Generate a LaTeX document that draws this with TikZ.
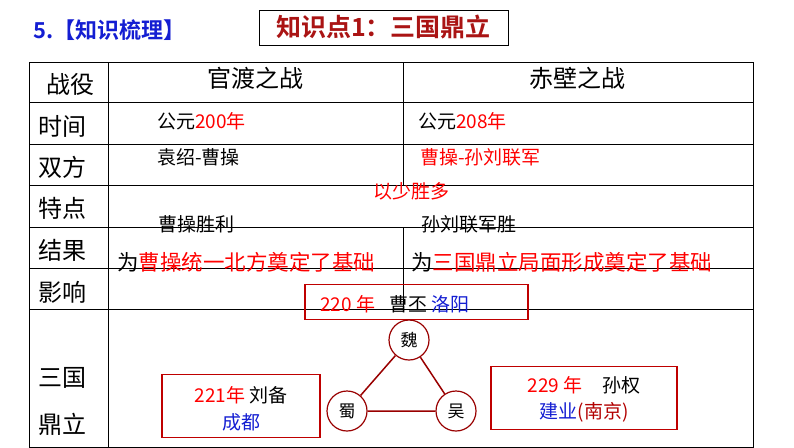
\documentclass[tikz,border=0pt]{standalone}
\usepackage{fontspec}
\newfontfamily\cjk{Noto Sans CJK SC}
\newfontfamily\cjkb{Noto Sans CJK SC Bold}
\begin{document}
\begin{tikzpicture}[x=1pt,y=-1pt,
  lab/.style={font=\cjk\fontsize{24}{24}\selectfont,inner sep=0},
  txt/.style={font=\cjk\fontsize{19}{19}\selectfont,inner sep=0,anchor=west},
  wide/.style={font=\cjk\fontsize{21.5}{21.5}\selectfont,inner sep=0,anchor=west},
  rb/.style={draw=red!75!black,line width=1.2pt},
  kc/.style={circle,draw=red!60!black,line width=1.2pt,fill=white,minimum size=40,inner sep=0,font=\cjk\fontsize{17}{17}\selectfont}]
\definecolor{dr}{RGB}{170,20,20}
\definecolor{bl}{RGB}{20,30,210}
\useasboundingbox (0,0) rectangle (794,447);
% title
\node[anchor=west,inner sep=0,text=bl,font=\cjkb\fontsize{22}{22}\selectfont] (t1) at (33,30) {5.【知识梳理】};
\node[draw,line width=0.8pt,minimum width=249,minimum height=35,inner sep=0,text=dr,font=\cjkb\fontsize{25}{25}\selectfont] (t2) at (383.5,27.5) {知识点1：三国鼎立};
% table
\draw[line width=0.8pt] (29,62) rectangle (753,447);
\draw[line width=0.8pt] (108,62) -- (108,447);
\foreach \y in {102,144,185,227,268,309} \draw[line width=0.8pt] (29,\y) -- (753,\y);
\draw[line width=0.8pt] (403,62) -- (403,185);
\draw[line width=0.8pt] (403,227) -- (403,309);
% row labels
\node[lab] (r0) at (70,84) {战役};
\node[lab] (r1) at (62,126) {时间};
\node[lab] (r2) at (62,167) {双方};
\node[lab] (r3) at (62,208) {特点};
\node[lab] (r4) at (62,250) {结果};
\node[lab] (r5) at (62,292) {影响};
\node[lab] (r6) at (62,378) {三国};
\node[lab] (r7) at (62,424) {鼎立};
\node[lab] (h1) at (255,78) {官渡之战};
\node[lab] (h2) at (577,78) {赤壁之战};
% cells
\node[txt] (a1) at (157,121) {公元\textcolor{red}{200年}};
\node[txt] (b1) at (418,121) {公元\textcolor{red}{208年}};
\node[txt] (a2) at (157,157) {袁绍-曹操};
\node[txt,text=red] (b2) at (420,157) {曹操-孙刘联军};
\node[txt,text=red,anchor=center] (c3) at (411,191) {以少胜多};
\node[txt] (a4) at (158,224) {曹操胜利};
\node[txt] (b4) at (421,224) {孙刘联军胜};
\node[wide] (a5) at (117,262) {为\textcolor{red}{曹操统一北方奠定了基础}};
\node[wide] (b5) at (411,262) {为\textcolor{red}{三国鼎立局面形成奠定了基础}};
% bottom
\node[rb,fill=none,minimum width=223,minimum height=35,inner sep=0] (bx) at (416.5,302) {};
\node[txt] (w1) at (320,304) {\textcolor{red}{220 年}\hspace{14pt}曹丕 \textcolor{bl}{洛阳}};
\node[kc] (wei) at (409,340) {魏};
\node[kc] (shu) at (347,411) {蜀};
\node[kc] (wu) at (456,411) {吴};
\draw[red!60!black,line width=1.5pt] (wei) -- (shu) -- (wu) -- (wei);
\node[rb,minimum width=158,minimum height=63,inner sep=0] (bs) at (241,406) {};
\node[txt,anchor=center] (s1) at (241,395) {\textcolor{red}{221年} 刘备};
\node[txt,anchor=center,text=bl] (s2) at (241,422) {成都};
\node[rb,minimum width=186,minimum height=63,inner sep=0] (bw) at (584,398) {};
\node[txt,anchor=center] (u1) at (584,385) {\textcolor{red}{229 年}\hspace{20pt}孙权};
\node[txt,anchor=center] (u2) at (584,412) {\textcolor{bl}{建业}\textcolor{red!70!black}{(南京)}};
\end{tikzpicture}
\end{document}
